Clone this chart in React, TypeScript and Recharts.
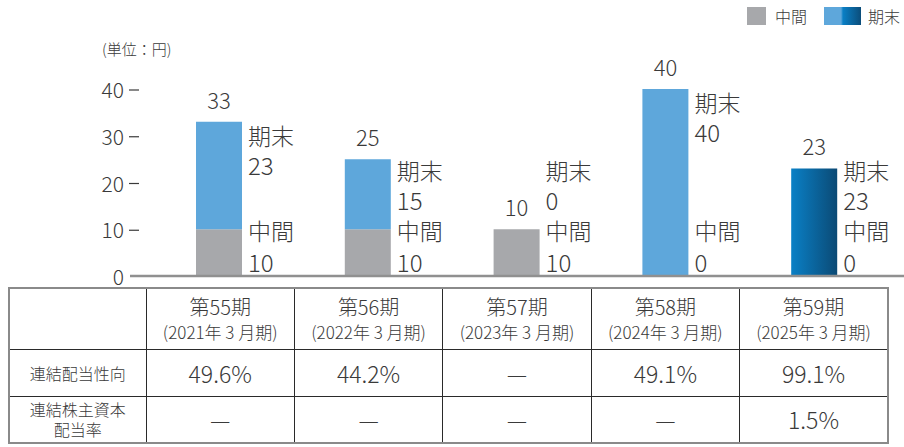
import { Bar, BarChart, Cell, LabelList, XAxis, YAxis } from "recharts";

const periods = ["第55期", "第56期", "第57期", "第58期", "第59期"];
const fiscalYears = ["(2021年 3 月期)", "(2022年 3 月期)", "(2023年 3 月期)", "(2024年 3 月期)", "(2025年 3 月期)"];
const interim = [10, 10, 10, 0, 0];
const yearEnd = [23, 15, 0, 40, 23];
const payoutRatio = ["49.6%", "44.2%", "—", "49.1%", "99.1%"];
const doeRatio = ["—", "—", "—", "—", "1.5%"];
const yTicks = [0, 10, 20, 30, 40];

const data = periods.map((p, i) => ({
  period: p,
  interim: interim[i],
  yearEnd: yearEnd[i],
  total: interim[i] + yearEnd[i],
}));

const FONT = '"Noto Sans CJK JP", "Noto Sans", sans-serif';
const INK = "#3a3a3a";
const GRAY = "#a7a8ab";
const BLUE = "#5ea7db";
const CHART_W = 904;
const CHART_H = 290;
const M = { top: 89, right: 15, bottom: 14, left: 0 };
const BASE = CHART_H - M.bottom;

function YTick(props: any) {
  const { x, y, payload } = props;
  return (
    <g>
      <text
        x={x - 13}
        y={y}
        textAnchor="end"
        dominantBaseline="central"
        fontSize={21}
        fontWeight={300}
        fill={INK}
        fontFamily={FONT}
      >
        {payload.value}
      </text>
      {payload.value === 0 ? (
        <line x1={x - 7} x2={CHART_W} y1={y} y2={y} stroke="#909090" strokeWidth={2.5} />
      ) : (
        <line x1={x - 8} x2={x + 2} y1={y + 1} y2={y + 1} stroke={INK} strokeWidth={1.2} />
      )}
    </g>
  );
}

// labels hang off an invisible "total" bar so every category gets one
function BarLabels(props: any) {
  const { x, y, width, index } = props;
  const cx = x + width / 2;
  const sx = x + width + 6;
  const endBase = Math.min(y + 23, 180);
  const style = { fontFamily: FONT, fill: INK, fontWeight: 300 };
  return (
    <g>
      <text x={cx} y={y - 13} textAnchor="middle" fontSize={22} {...style}>
        {data[index].total}
      </text>
      <text x={sx} y={endBase} fontSize={23} {...style}>期末</text>
      <text x={sx} y={endBase + 30} fontSize={24} {...style}>{yearEnd[index]}</text>
      <text x={sx} y={BASE - 36} fontSize={23} {...style}>中間</text>
      <text x={sx} y={BASE - 4} fontSize={24} {...style}>{interim[index]}</text>
    </g>
  );
}

const cell: React.CSSProperties = {
  borderLeft: "1px solid #2a2a2a",
  borderTop: "1px solid #2a2a2a",
  textAlign: "center",
  verticalAlign: "middle",
  color: INK,
  padding: 0,
  fontWeight: 300,
};

export default function App() {
  return (
    <div style={{ position: "absolute", left: 0, top: 0, width: 904, height: 447, background: "#fff", fontFamily: FONT }}>
      <div style={{ position: "absolute", left: 102, top: 38, fontSize: 15, color: INK, fontWeight: 300 }}>(単位：円)</div>
      <div style={{ position: "absolute", left: 747, top: 7, display: "flex", alignItems: "center", fontSize: 16, color: INK, lineHeight: "18px", fontWeight: 300 }}>
        <span style={{ width: 19, height: 18, background: GRAY, display: "inline-block" }} />
        <span style={{ marginLeft: 9 }}>中間</span>
        <span
          style={{
            marginLeft: 17,
            width: 37,
            height: 18,
            display: "inline-block",
            background: `linear-gradient(to right, ${BLUE} 0, ${BLUE} 17px, #0a7fc5 19px, #0b4d7a 37px)`,
          }}
        />
        <span style={{ marginLeft: 7 }}>期末</span>
      </div>
      <div style={{ position: "absolute", left: 0, top: 0 }}>
        <BarChart width={CHART_W} height={CHART_H} data={data} margin={M} barSize={46}>
          <defs>
            <linearGradient id="lastBar" x1="0" y1="0" x2="1" y2="0">
              <stop offset="0%" stopColor="#0a80c6" />
              <stop offset="100%" stopColor="#0b4a75" />
            </linearGradient>
          </defs>
          <XAxis dataKey="period" hide />
          <XAxis dataKey="period" xAxisId="lbl" hide />
          <YAxis
            domain={[0, 40]}
            ticks={yTicks}
            width={145}
            axisLine={false}
            tickLine={false}
            tick={<YTick />}
            interval={0}
          />
          <Bar dataKey="interim" stackId="a" fill={GRAY} isAnimationActive={false} />
          <Bar dataKey="yearEnd" stackId="a" fill={BLUE} isAnimationActive={false}>
            {data.map((_, i) => (
              <Cell key={i} fill={i === data.length - 1 ? "url(#lastBar)" : BLUE} />
            ))}
          </Bar>
          <Bar dataKey="total" xAxisId="lbl" fill="transparent" isAnimationActive={false}>
            <LabelList content={<BarLabels />} />
          </Bar>
        </BarChart>
      </div>
      <table
        style={{
          position: "absolute",
          left: 8,
          top: 287,
          width: 881,
          height: 155,
          borderCollapse: "collapse",
          border: "2px solid #8a8a8a",
          tableLayout: "fixed",
        }}
      >
        <colgroup>
          <col style={{ width: 137 }} />
          {periods.map((p) => (
            <col key={p} />
          ))}
        </colgroup>
        <tbody>
          <tr style={{ height: 61 }}>
            <td style={{ ...cell, borderLeft: "none", borderTop: "none" }} />
            {periods.map((p, i) => (
              <td key={p} style={{ ...cell, borderTop: "none", lineHeight: "25px" }}>
                <div style={{ fontSize: 20 }}>{p}</div>
                <div style={{ fontSize: 17 }}>{fiscalYears[i]}</div>
              </td>
            ))}
          </tr>
          <tr style={{ height: 47 }}>
            <td style={{ ...cell, borderLeft: "none", fontSize: 16 }}>連結配当性向</td>
            {payoutRatio.map((v, i) => (
              <td key={i} style={{ ...cell, fontSize: 23 }}>{v}</td>
            ))}
          </tr>
          <tr style={{ height: 47 }}>
            <td style={{ ...cell, borderLeft: "none", fontSize: 16, lineHeight: "20px" }}>
              連結株主資本
              <br />
              配当率
            </td>
            {doeRatio.map((v, i) => (
              <td key={i} style={{ ...cell, fontSize: 23 }}>{v}</td>
            ))}
          </tr>
        </tbody>
      </table>
    </div>
  );
}
